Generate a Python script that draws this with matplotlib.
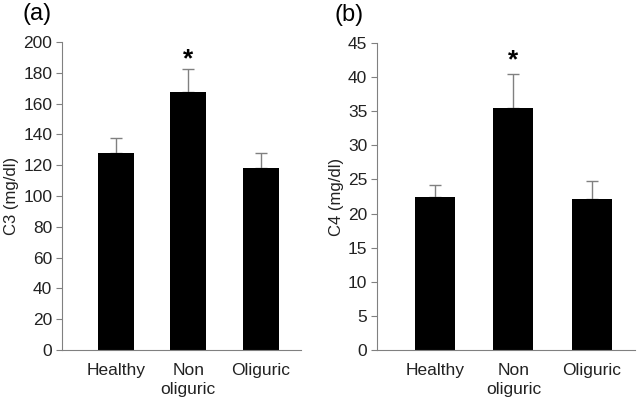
import matplotlib
matplotlib.use("Agg")
import matplotlib.pyplot as plt

plt.rcParams['font.family'] = ['Liberation Sans', 'DejaVu Sans']

groups = ['Healthy', 'Non\noliguric', 'Oliguric']
c3_mean = [128, 167.5, 118]
c3_err = [9.5, 15, 10]
c4_mean = [22.4, 35.5, 22.2]
c4_err = [1.8, 5.0, 2.6]


def draw_panel(ax, means, errs, ymax, ystep, ylabel, letter, star_y, bw):
    x = list(range(len(groups)))
    ax.bar(x, means, width=bw, color='black', zorder=2)
    ax.errorbar(x, means, yerr=[[0] * len(errs), errs], fmt='none',
                ecolor='#808080', elinewidth=1, capsize=4, capthick=1, zorder=1)
    ax.text(1, star_y, '*', ha='center', va='center', fontsize=19,
            fontweight='bold')
    ax.set_xlim(-0.745, 2.555)
    ax.set_ylim(0, ymax)
    ax.set_yticks([i * ystep for i in range(int(ymax / ystep) + 1)])
    ax.set_xticks(x)
    ax.set_xticklabels(groups, fontsize=12.5, color='#222222', linespacing=1.4)
    ax.tick_params(axis='x', length=0, pad=9)
    ax.tick_params(axis='y', length=4, color='#808080', labelsize=12.5,
                   labelcolor='#222222', pad=3)
    for s in ['top', 'right']:
        ax.spines[s].set_visible(False)
    for s in ['left', 'bottom']:
        ax.spines[s].set_color('#808080')
    ax.set_ylabel(ylabel, fontsize=12, color='#222222', labelpad=3)
    ax.text(-0.165, 1.09, letter, transform=ax.transAxes, fontsize=17,
            ha='left', va='center')


fig = plt.figure(figsize=(6.37, 4.03), dpi=100)
ax1 = fig.add_axes([0.0973, 0.1315, 0.3752, 0.7643])
ax2 = fig.add_axes([0.5918, 0.1315, 0.4051, 0.7618])

draw_panel(ax1, c3_mean, c3_err, 200, 20, 'C3 (mg/dl)', '(a)', 189, 0.5)
draw_panel(ax2, c4_mean, c4_err, 45, 5, 'C4 (mg/dl)', '(b)', 42.5, 0.51)

fig.savefig('out.png', dpi=100)
